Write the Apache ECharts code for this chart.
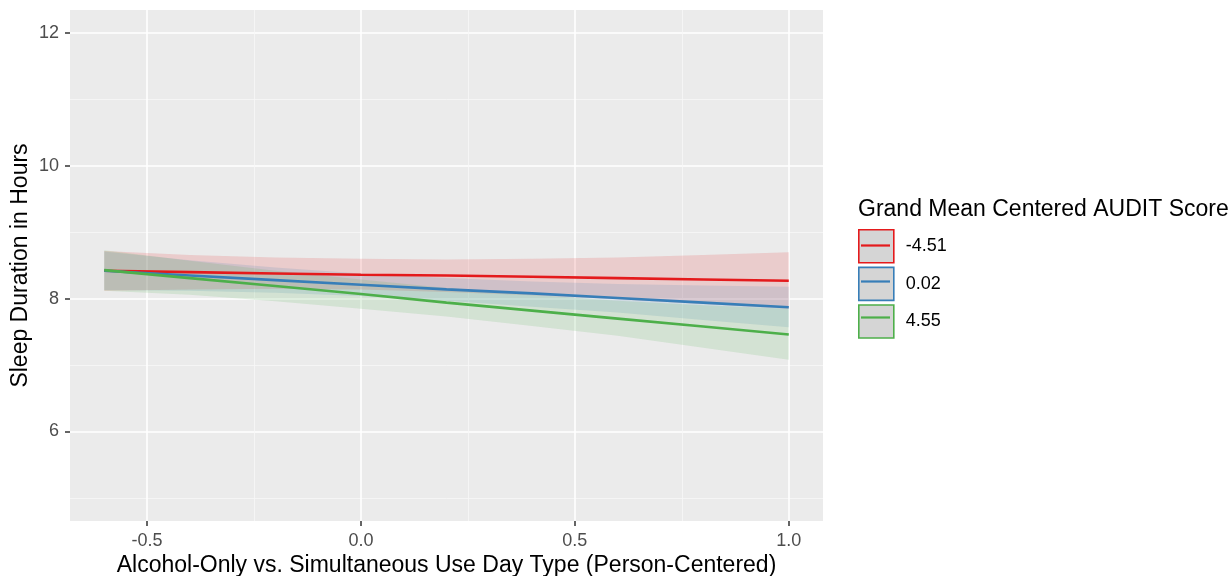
<!DOCTYPE html>
<html>
<head>
<meta charset="utf-8">
<script src="https://cdn.jsdelivr.net/npm/echarts@6/dist/echarts.min.js"></script>
<style>html,body{margin:0;padding:0;background:#fff}#c{width:1228px;height:576px}</style>
</head>
<body>
<div id="c"></div>
<script>
// ---- data ----
const xValues = [-0.6, -0.4, -0.2, 0.0, 0.2, 0.4, 0.6, 0.8, 1.0];
const groupNames = ['-4.51', '0.02', '4.55'];

const fitNeg451 = [8.42, 8.40, 8.38, 8.36, 8.35, 8.33, 8.31, 8.29, 8.27];
const ciLowNeg451 = [8.12, 8.14, 8.15, 8.14, 8.10, 8.05, 7.99, 7.92, 7.85];
const ciHighNeg451 = [8.72, 8.66, 8.62, 8.60, 8.59, 8.60, 8.62, 8.66, 8.70];

const fit002 = [8.42, 8.35, 8.28, 8.21, 8.14, 8.08, 8.01, 7.94, 7.87];
const ciLow002 = [8.13, 8.12, 8.09, 8.04, 7.97, 7.88, 7.79, 7.68, 7.57];
const ciHigh002 = [8.71, 8.58, 8.47, 8.38, 8.31, 8.26, 8.22, 8.20, 8.18];

const fit455 = [8.43, 8.31, 8.19, 8.07, 7.94, 7.82, 7.70, 7.58, 7.46];
const ciLow455 = [8.12, 8.06, 7.96, 7.85, 7.73, 7.59, 7.44, 7.26, 7.08];
const ciHigh455 = [8.73, 8.57, 8.42, 8.29, 8.16, 8.06, 7.97, 7.90, 7.85];

const xTicks = [-0.5, 0.0, 0.5, 1.0];
const xMinorTicks = [-0.25, 0.25, 0.75];
const yTicks = [6, 8, 10, 12];
const yMinorTicks = [5, 7, 9, 11];

// ---- styling ----
const colors = ['#E41A1C', '#377EB8', '#4DAF4A'];
const FONT = '"Liberation Sans", Arial, Helvetica, sans-serif';
const X_MIN = -0.68, X_MAX = 1.08, Y_MIN = 4.65, Y_MAX = 12.35;

const fits = [fitNeg451, fit002, fit455];
const lows = [ciLowNeg451, ciLow002, ciLow455];
const highs = [ciHighNeg451, ciHigh002, ciHigh455];

function bandSeries(i) {
  const lo = lows[i], hi = highs[i];
  return {
    type: 'custom',
    name: groupNames[i] + ' band',
    xAxisIndex: 0, yAxisIndex: 0,
    z: 1, silent: true,
    data: xValues.map((x, k) => [x, lo[k], hi[k]]),
    encode: { x: 0, y: [1, 2] },
    renderItem: function (params, api) {
      if (params.dataIndex !== 0) return null;
      const upper = xValues.map((x, k) => api.coord([x, hi[k]]));
      const lower = xValues.map((x, k) => api.coord([x, lo[k]])).reverse();
      return {
        type: 'polygon',
        shape: { points: upper.concat(lower) },
        style: { fill: colors[i], opacity: 0.15 }
      };
    }
  };
}

function lineSeries(i) {
  return {
    type: 'line',
    name: groupNames[i],
    xAxisIndex: 0, yAxisIndex: 0,
    z: 3,
    data: xValues.map((x, k) => [x, fits[i][k]]),
    symbol: 'none',
    color: colors[i],
    lineStyle: { width: 2.6, color: colors[i] },
    silent: true
  };
}

const option = {
  animation: false,
  backgroundColor: '#ffffff',
  textStyle: { fontFamily: FONT },
  grid: { left: 70, right: 405, top: 10, bottom: 55, show: true, backgroundColor: '#EBEBEB', borderWidth: 0,
          containLabel: false, outerBoundsMode: 'none' },
  title: {
    text: 'Grand Mean Centered AUDIT Score',
    left: 858, top: 198, padding: 0,
    textStyle: { fontSize: 23, fontWeight: 'normal', color: '#000', fontFamily: FONT }
  },
  legend: [
    {
      orient: 'vertical', left: 858, top: 229, padding: 0,
      itemWidth: 35, itemHeight: 33, itemGap: 3,
      icon: 'rect', selectedMode: false,
      textStyle: { fontSize: 18, color: '#000', fontFamily: FONT, padding: [0, 0, 0, 7] },
      data: groupNames.map((g, i) => ({ name: g, itemStyle: { color: '#D5D5D5', borderColor: colors[i], borderWidth: 1.6 } }))
    },
    {
      orient: 'vertical', left: 858, top: 229, padding: 0,
      itemWidth: 35, itemHeight: 33, itemGap: 3,
      icon: 'path://M0,0L0,0M35,33L35,33M3,15.4L32,15.4L32,17.6L3,17.6Z',
      selectedMode: false,
      textStyle: { fontSize: 18, color: 'rgba(0,0,0,0)', fontFamily: FONT, padding: [0, 0, 0, 7] },
      data: groupNames.map((g, i) => ({ name: g, itemStyle: { color: colors[i], borderWidth: 0 } }))
    }
  ],
  xAxis: [
    {
      type: 'value', min: X_MIN, max: X_MAX, gridIndex: 0, position: 'bottom',
      name: 'Alcohol-Only vs. Simultaneous Use Day Type (Person-Centered)',
      nameLocation: 'middle', nameGap: 33, nameMoveOverlap: false,
      nameTextStyle: { fontSize: 23, color: '#000', fontFamily: FONT },
      axisLine: { show: false, onZero: false },
      axisTick: { show: true, inside: false, length: 5, lineStyle: { color: '#333333', width: 1.5 }, customValues: xTicks },
      axisLabel: { show: true, margin: 11, fontSize: 18, color: '#4D4D4D', fontFamily: FONT,
        customValues: xTicks, formatter: v => v.toFixed(1) },
      splitLine: { show: true, lineStyle: { color: '#ffffff', width: 1.6 } }
    },
    {
      type: 'value', min: X_MIN, max: X_MAX, gridIndex: 0, position: 'top',
      axisLine: { show: false, onZero: false },
      axisTick: { show: false, customValues: xMinorTicks },
      axisLabel: { show: false, customValues: xMinorTicks },
      splitLine: { show: true, lineStyle: { color: '#F7F7F7', width: 0.8 } }
    }
  ],
  yAxis: [
    {
      type: 'value', min: Y_MIN, max: Y_MAX, gridIndex: 0, position: 'left',
      name: 'Sleep Duration in Hours',
      nameLocation: 'middle', nameGap: 38, nameRotate: 90, nameMoveOverlap: false,
      nameTextStyle: { fontSize: 23, color: '#000', fontFamily: FONT },
      axisLine: { show: false, onZero: false },
      axisTick: { show: true, length: 5, lineStyle: { color: '#333333', width: 1.5 }, customValues: yTicks },
      axisLabel: { show: true, margin: 11, fontSize: 18, color: '#4D4D4D', fontFamily: FONT,
        customValues: yTicks, formatter: v => String(v) },
      splitLine: { show: true, lineStyle: { color: '#ffffff', width: 1.6 } }
    },
    {
      type: 'value', min: Y_MIN, max: Y_MAX, gridIndex: 0, position: 'right',
      axisLine: { show: false, onZero: false },
      axisTick: { show: false, customValues: yMinorTicks },
      axisLabel: { show: false, customValues: yMinorTicks },
      splitLine: { show: true, lineStyle: { color: '#F7F7F7', width: 0.8 } }
    }
  ],
  series: [
    bandSeries(0), bandSeries(1), bandSeries(2),
    lineSeries(0), lineSeries(1), lineSeries(2)
  ]
};

const chart = echarts.init(document.getElementById('c'), null, { renderer: 'canvas' });
chart.setOption(option);
</script>
</body>
</html>
